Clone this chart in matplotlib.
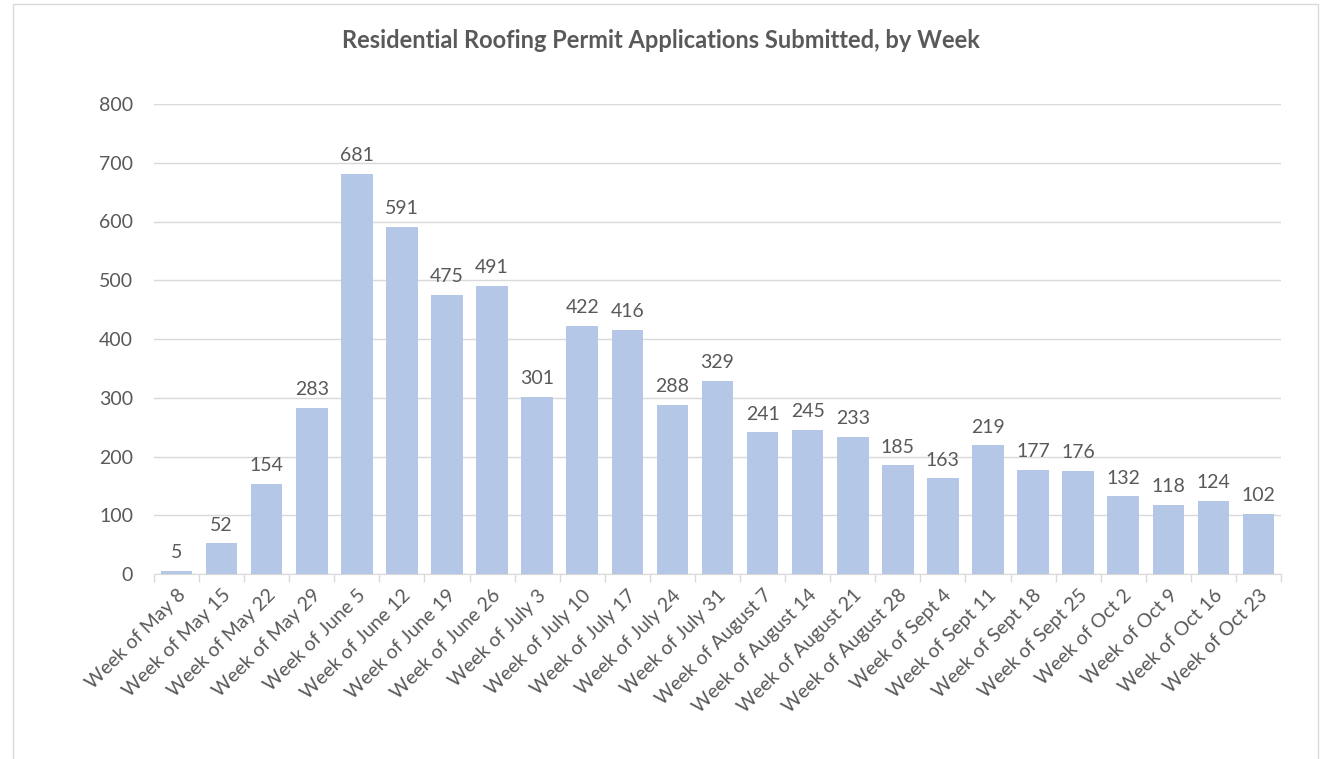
import matplotlib.pyplot as plt
import matplotlib.patches as patches

weeks = ["Week of May 8", "Week of May 15", "Week of May 22", "Week of May 29",
         "Week of June 5", "Week of June 12", "Week of June 19", "Week of June 26",
         "Week of July 3", "Week of July 10", "Week of July 17", "Week of July 24",
         "Week of July 31", "Week of August 7", "Week of August 14", "Week of August 21",
         "Week of August 28", "Week of Sept 4", "Week of Sept 11", "Week of Sept 18",
         "Week of Sept 25", "Week of Oct 2", "Week of Oct 9", "Week of Oct 16",
         "Week of Oct 23"]
permits = [5, 52, 154, 283, 681, 591, 475, 491, 301, 422, 416, 288, 329,
           241, 245, 233, 185, 163, 219, 177, 176, 132, 118, 124, 102]

plt.rcParams['font.family'] = ['Lato', 'DejaVu Sans']
gray = '#595959'

fig = plt.figure(figsize=(13.22, 7.59), dpi=100)
# chart border
fig.patches.append(patches.Rectangle((13 / 1322, -0.05), 1305 / 1322, 1.05 - 4 / 759,
                                     transform=fig.transFigure, fill=False,
                                     edgecolor='#d9d9d9', linewidth=1))

ax = fig.add_axes([154 / 1322, 1 - 574 / 759, (1281 - 154) / 1322, 470 / 759])
x = range(len(weeks))
bars = ax.bar(x, permits, width=0.7, color='#b4c7e7', zorder=2)
ax.bar_label(bars, padding=7, fontsize=14, color=gray)

ax.set_xlim(-0.5, len(weeks) - 0.5)
ax.set_ylim(0, 800)
ax.set_yticks(range(0, 801, 100))
ax.grid(axis='y', color='#d9d9d9', linewidth=1, zorder=0)
for s in ['top', 'right', 'left']:
    ax.spines[s].set_visible(False)
ax.spines['bottom'].set_color('#d9d9d9')
ax.spines['bottom'].set_zorder(3)

ax.set_xticks([i - 0.5 for i in range(len(weeks) + 1)], minor=False)
ax.set_xticklabels([''] * (len(weeks) + 1))
ax.tick_params(axis='x', length=6, color='#d9d9d9', width=1)
ax.set_xticks(list(x), minor=True)
ax.set_xticklabels(weeks, minor=True, rotation=45, ha='right', rotation_mode='anchor',
                   fontsize=14, color=gray)
ax.tick_params(axis='x', which='minor', length=0, pad=9)
ax.tick_params(axis='y', length=0, labelsize=14, labelcolor=gray, pad=15)

fig.text(0.5, 1 - 40 / 759, "Residential Roofing Permit Applications Submitted, by Week",
         ha='center', va='center', fontsize=17, fontweight='bold', color=gray)

fig.savefig('out.png', dpi=100)
